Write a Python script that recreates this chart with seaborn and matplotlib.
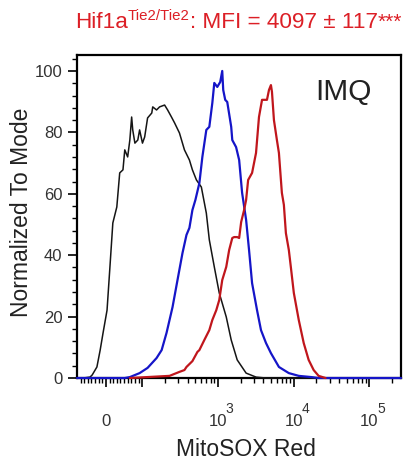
import matplotlib
matplotlib.use("Agg")
import matplotlib.pyplot as plt
import pandas as pd
import seaborn as sns

# MitoSOX Red histograms (fluorescence, % of mode)
black_x = [-80, -63, -44, -38, -25, -16, -8, 3, 11, 19, 30, 38, 47, 52, 60, 66, 71, 74, 80,
           88, 93, 101, 108, 118, 134, 138, 155, 170, 198, 217, 244, 268, 311, 362, 421, 461,
           521, 605, 704, 771, 897, 1043, 1290, 1500, 1800, 2360, 3190, 4320, 262144]
black_y = [0, 0, 0.3, 1.0, 3.6, 9.1, 14.7, 22.1, 36.2, 50.5, 55.7, 66.8, 67.8, 74.3, 72.0,
           77.5, 85.0, 80.8, 76.5, 77.5, 80.8, 76.5, 78.5, 84.7, 86.3, 88.3, 87.3, 88.3, 88.9,
           87.3, 85.0, 83.1, 79.8, 74.3, 71.0, 67.8, 64.5, 62.2, 53.7, 45.0, 36.2, 27.7, 19.9,
           12.4, 5.9, 1.6, 0.3, 0, 0]

blue_x = [-80, 52, 66, 93, 118, 155, 181, 210, 252, 293, 341, 385, 421, 461, 505, 570, 624,
          704, 771, 845, 897, 982, 1074, 1142, 1177, 1250, 1330, 1500, 1550, 1740, 1910, 2090,
          2360, 2580, 2830, 3290, 3710, 4320, 5020, 6400, 8650, 11700, 17300, 21400, 262144]
blue_y = [0, 0, 0.3, 1.6, 3.3, 6.5, 9.1, 14.7, 23.1, 31.9, 40.7, 46.6, 48.9, 54.7, 58.0, 63.5,
          72.0, 80.8, 81.8, 89.6, 96.1, 94.8, 96.4, 100.0, 93.8, 90.6, 89.9, 81.8, 77.5, 75.2,
          71.0, 60.3, 51.5, 41.7, 30.9, 22.1, 15.6, 11.4, 8.1, 3.6, 1.6, 0.7, 0.3, 0, 0]

red_x = [66, 230, 311, 362, 385, 461, 537, 570, 663, 771, 845, 953, 1043, 1142, 1290, 1410,
         1550, 1640, 1800, 1910, 2030, 2220, 2360, 2510, 2830, 3190, 3490, 3830, 4450, 4730,
         5020, 5180, 5500, 6020, 6400, 7000, 7440, 7910, 8650, 9190, 10070, 11700, 13600,
         15800, 18400, 21400, 26400]
red_y = [0, 0.7, 2.0, 2.6, 3.6, 5.5, 8.5, 9.1, 12.4, 15.6, 18.9, 22.1, 25.4, 31.9, 36.2, 41.7,
         45.6, 45.9, 45.9, 45.6, 50.8, 54.7, 58.0, 64.5, 66.8, 73.3, 85.0, 90.6, 90.6, 93.8,
         95.4, 93.2, 84.0, 77.5, 73.3, 60.3, 56.4, 47.2, 41.7, 36.2, 27.7, 18.9, 11.4, 5.9,
         2.6, 0.7, 0]

x_major = [0, 100, 1000, 10000, 100000]
x_major_labels = ["0", "", "10", "10", "10"]
x_exponents = [None, None, "3", "4", "5"]
y_major = [0, 20, 40, 60, 80, 100]

# title pieces: (text, font size, baseline raise in px)
title_parts = [("Hif1a", 16.2, 0), ("Tie2/Tie2", 10.8, 8.3),
               (": MFI = 4097 ± 117", 16.2, 0), ("***", 15, 0)]
panel_text = "IMQ"
x_title = "MitoSOX Red"
y_title = "Normalized To Mode"

sns.set_style("ticks")
plt.rcParams["font.family"] = ["Liberation Sans", "DejaVu Sans"]

W, H = 419, 461
fig = plt.figure(figsize=(W / 100, H / 100), dpi=100)
ax = fig.add_axes([0.1838, 0.18, 0.7733, 0.7007])

frames = [
    ("black", black_x, black_y, "#151515", 1.1),
    ("blue", blue_x, blue_y, "#1515C8", 1.6),
    ("red", red_x, red_y, "#C0161C", 1.6),
]
for name, xs, ys, col, lw in frames:
    df = pd.DataFrame({"MitoSOX": xs, "pct": ys})
    sns.lineplot(data=df, x="MitoSOX", y="pct", ax=ax, color=col, lw=lw,
                 sort=False, estimator=None)
for ln in ax.lines:
    ln.set_clip_on(False)
    ln.set_zorder(3)

ax.set_xscale("symlog", linthresh=100, linscale=0.43)
ax.set_xlim(-80, 262144)
ax.set_ylim(0, 105.2)

minor_x = ([-70, -60, -50, -40, -30, -20, -10, 10, 20, 30, 40, 50, 60, 70, 80, 90]
           + [m * 100 for m in range(2, 10)] + [m * 1000 for m in range(2, 10)]
           + [m * 10000 for m in range(2, 10)] + [200000])
ax.set_xticks(x_major)
ax.set_xticklabels(x_major_labels)
ax.set_xticks(minor_x, minor=True)
ax.set_yticks(y_major)
ax.set_yticks(list(range(0, 105, 4)), minor=True)

for side in ["top", "right", "bottom", "left"]:
    ax.spines[side].set_visible(True)
    ax.spines[side].set_linewidth(1.6)
    ax.spines[side].set_color("black")

ax.tick_params(axis="both", which="major", direction="out", length=6.5, width=1.2,
               color="black", labelsize=12, labelcolor="#333333")
ax.tick_params(axis="both", which="minor", direction="out", length=3.6, width=1.0,
               color="black")
ax.tick_params(axis="x", which="major", pad=28)
ax.tick_params(axis="y", which="major", pad=4)
for lbl in ax.get_xticklabels():
    lbl.set_verticalalignment("baseline")

# decade exponents written next to each "10"
for xv, ex in zip(x_major, x_exponents):
    if ex is None:
        continue
    ax.annotate(ex, xy=(xv, 0), xycoords=("data", "axes fraction"),
                xytext=(5.6, -25.0), textcoords="offset points",
                fontsize=10, color="#333333", ha="left", va="baseline",
                annotation_clip=False)

ax.set_xlabel(x_title, fontsize=16.5, color="#222222")
ax.set_ylabel(y_title, fontsize=16.5, color="#222222")
ax.xaxis.set_label_coords(0.52, -0.186)
ax.yaxis.set_label_coords(-0.135, 0.514)

ax.text(0.735, 0.861, panel_text, transform=ax.transAxes, fontsize=21.5,
        color="#222222", ha="left", va="baseline")

# title assembled piece by piece so the superscripts keep their own size
renderer = fig.canvas.get_renderer()
x_px, base_px = 75.0, H - 28.0
for txt, size, raise_px in title_parts:
    t = fig.text(x_px / W, (base_px + raise_px) / H, txt, fontsize=size,
                 color="#DC1F26", ha="left", va="baseline")
    x_px = t.get_window_extent(renderer).x1

fig.savefig("out.png", dpi=100)
